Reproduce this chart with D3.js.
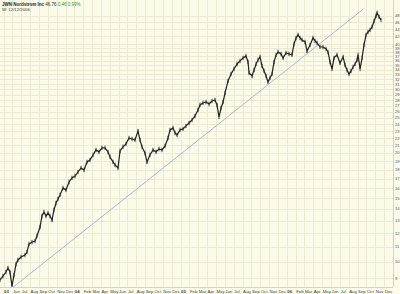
<!DOCTYPE html>
<html>
<head>
<meta charset="utf-8">
<script src="https://cdn.jsdelivr.net/npm/d3@7"></script>
<style>
  body { margin: 0; background: #fcfbe9; }
  svg { display: block; font-family: "Liberation Sans", Arial, sans-serif; }
</style>
</head>
<body>
<div id="chart"></div>
<script>
// price, time as decimal years
const years = [
  2003.300, 2003.328, 2003.356, 2003.375, 2003.394, 2003.413, 2003.432, 2003.451, 2003.469, 2003.498,
  2003.535, 2003.554, 2003.573, 2003.601, 2003.630, 2003.648, 2003.677, 2003.695, 2003.714, 2003.733,
  2003.752, 2003.771, 2003.790, 2003.808, 2003.827, 2003.846, 2003.865, 2003.893, 2003.921, 2003.950,
  2003.978, 2004.006, 2004.034, 2004.063, 2004.091, 2004.119, 2004.147, 2004.176, 2004.204, 2004.232,
  2004.260, 2004.289, 2004.317, 2004.336, 2004.364, 2004.383, 2004.411, 2004.430, 2004.458, 2004.486,
  2004.515, 2004.543, 2004.571, 2004.599, 2004.618, 2004.637, 2004.665, 2004.684, 2004.712, 2004.741,
  2004.769, 2004.797, 2004.825, 2004.854, 2004.882, 2004.901, 2004.929, 2004.948, 2004.967, 2004.995,
  2005.023, 2005.051, 2005.080, 2005.108, 2005.136, 2005.164, 2005.183, 2005.211, 2005.240, 2005.268,
  2005.296, 2005.324, 2005.343, 2005.362, 2005.381, 2005.400, 2005.419, 2005.447, 2005.475, 2005.503,
  2005.532, 2005.560, 2005.588, 2005.616, 2005.635, 2005.645, 2005.673, 2005.692, 2005.711, 2005.729,
  2005.748, 2005.767, 2005.786, 2005.805, 2005.823, 2005.842, 2005.861, 2005.880, 2005.899, 2005.918,
  2005.946, 2005.965, 2005.993, 2006.021, 2006.049, 2006.068, 2006.087, 2006.106, 2006.125, 2006.144,
  2006.172, 2006.191, 2006.219, 2006.247, 2006.266, 2006.285, 2006.313, 2006.341, 2006.370, 2006.388,
  2006.407, 2006.426, 2006.445, 2006.473, 2006.501, 2006.530, 2006.548, 2006.567, 2006.586, 2006.605,
  2006.624, 2006.643, 2006.662, 2006.671, 2006.690, 2006.709, 2006.727, 2006.746, 2006.765, 2006.784,
  2006.803, 2006.822, 2006.840, 2006.850, 2006.869, 2006.887
]
const closes = [
  8.91, 9.13, 9.37, 9.61, 9.37, 8.57, 9.19, 9.86, 10.12, 10.31,
  10.44, 10.64, 11.20, 11.34, 11.42, 11.79, 12.48, 13.39, 13.73, 13.39,
  13.64, 13.39, 13.05, 13.91, 14.54, 14.92, 15.31, 16.00, 15.80, 16.63,
  17.06, 17.27, 17.72, 18.18, 17.95, 18.89, 19.13, 19.75, 20.39, 20.13,
  20.66, 20.66, 20.13, 19.50, 18.89, 18.53, 18.18, 20.26, 20.79, 21.18,
  22.00, 21.86, 21.73, 22.99, 21.73, 20.79, 20.00, 18.89, 19.75, 20.39,
  20.13, 20.52, 20.39, 20.92, 22.00, 23.16, 23.46, 22.71, 22.43, 23.16,
  23.31, 23.76, 24.21, 24.68, 25.32, 26.30, 27.15, 27.50, 27.67, 27.32,
  27.85, 28.03, 27.15, 25.16, 26.63, 27.67, 29.31, 31.64, 33.08, 34.15,
  35.25, 35.94, 36.64, 37.10, 35.71, 33.29, 32.66, 33.93, 35.25, 36.17,
  36.87, 34.81, 33.72, 32.66, 31.44, 32.24, 33.08, 35.71, 37.34, 38.05,
  37.58, 36.64, 37.82, 37.58, 37.34, 40.04, 41.60, 42.41, 41.60, 41.08,
  40.56, 38.30, 39.79, 41.60, 40.82, 40.30, 39.28, 39.28, 38.79, 38.05,
  35.71, 34.15, 36.64, 37.34, 35.48, 36.87, 35.03, 33.93, 33.08, 33.72,
  34.59, 35.25, 36.17, 37.34, 34.15, 36.64, 39.79, 42.41, 43.23, 43.78,
  44.63, 46.36, 47.86, 48.80, 47.56, 46.66
]
const trendYears = [2003.41, 2006.72]
const trendPrices = [8.45, 50.0]
const priceTicks = [9, 10, 11, 12, 13, 14, 15, 16, 17, 18, 19, 20, 21, 22, 23, 24, 25, 26, 27, 28,
  29, 30, 31, 32, 33, 34, 35, 36, 37, 38, 39, 40, 42, 44, 46, 48]
const monthNames = ["Jan", "Feb", "Mar", "Apr", "May", "Jun", "Jul", "Aug", "Sep", "Oct", "Nov", "Dec"]

const WIDTH = 400, HEIGHT = 294
const PLOT = { W: 393, H: 287 }

const svg = d3.select("#chart").append("svg")
  .attr("width", WIDTH)
  .attr("height", HEIGHT)

svg.append("rect").attr("width", WIDTH).attr("height", HEIGHT).attr("fill", "#fcfbe9")

const x = d3.scaleLinear().domain([2003.30, 2007.00]).range([0, PLOT.W])
const y = d3.scaleLog().domain([8.4, 50]).range([289.2, 9.1])

// month ticks, year number on January (and on the first month)
const monthTicks = []
for (let yr = 2003; yr <= 2006; yr++) {
  for (let m = 0; m < 12; m++) {
    const t = yr + m / 12
    if (t < 2003.33) continue
    const isYear = m === 0 || monthTicks.length === 0
    monthTicks.push({ t, lab: isYear ? String(yr).slice(2) : monthNames[m], year: isYear })
  }
}

const grid = svg.append("g")
grid.selectAll("line.v").data(monthTicks).enter().append("line")
  .attr("x1", d => Math.round(x(d.t)) + 0.5).attr("x2", d => Math.round(x(d.t)) + 0.5)
  .attr("y1", 0).attr("y2", PLOT.H)
  .attr("stroke", "#ecead2").attr("stroke-width", 1)
grid.selectAll("line.h").data(priceTicks).enter().append("line")
  .attr("x1", 0).attr("x2", PLOT.W)
  .attr("y1", d => Math.round(y(d)) + 0.5).attr("y2", d => Math.round(y(d)) + 0.5)
  .attr("stroke", "#ecead2").attr("stroke-width", 1)

// frame of plot area
svg.append("line").attr("x1", PLOT.W + 0.5).attr("x2", PLOT.W + 0.5).attr("y1", 0).attr("y2", PLOT.H)
  .attr("stroke", "#d6d3ba")
svg.append("line").attr("x1", 0).attr("x2", PLOT.W).attr("y1", PLOT.H + 0.5).attr("y2", PLOT.H + 0.5)
  .attr("stroke", "#d6d3ba")

svg.append("clipPath").attr("id", "clip")
  .append("rect").attr("width", PLOT.W).attr("height", PLOT.H)

const plot = svg.append("g").attr("clip-path", "url(#clip)")

// trend line
plot.append("line")
  .attr("x1", x(trendYears[0])).attr("y1", y(trendPrices[0]))
  .attr("x2", x(trendYears[1])).attr("y2", y(trendPrices[1]))
  .attr("stroke", "#aab6d4").attr("stroke-width", 1)

const line = d3.line()
  .x((d, i) => x(years[i]))
  .y(d => y(d))

plot.append("path")
  .datum(closes)
  .attr("d", line)
  .attr("fill", "none")
  .attr("stroke", "#222")
  .attr("stroke-width", 1.2)

// bar-style tick at each reading
plot.selectAll("line.bar").data(closes).enter().append("line")
  .attr("class", "bar")
  .attr("x1", (d, i) => x(years[i])).attr("x2", (d, i) => x(years[i]))
  .attr("y1", d => y(d) - 2.2).attr("y2", d => y(d) + 2.2)
  .attr("stroke", "#2a2a2a").attr("stroke-width", 0.9)

// axis labels
svg.append("g").selectAll("text").data(monthTicks).enter().append("text")
  .attr("x", d => x(d.t) + 0.5)
  .attr("y", 292.5)
  .attr("font-size", "4.3px")
  .attr("font-weight", d => d.year ? "bold" : "normal")
  .attr("fill", "#444")
  .text(d => d.lab)

svg.append("g").selectAll("text").data(priceTicks).enter().append("text")
  .attr("x", 395)
  .attr("y", d => y(d) + 1.5)
  .attr("font-size", "4.2px")
  .attr("fill", "#555")
  .text(d => d)

// header
const head = svg.append("text").attr("x", 2).attr("y", 6).attr("font-size", "4.5px")
head.append("tspan").attr("font-weight", "bold").attr("fill", "#222").text("JWN Nordstrom Inc  ")
head.append("tspan").attr("fill", "#222").text("46.76  ")
head.append("tspan").attr("fill", "#2a9a2a").text("0.46  0.99%")

svg.append("text").attr("x", 2).attr("y", 11).attr("font-size", "4.3px")
  .attr("fill", "#333").text("W: 12/12/2006")
</script>
</body>
</html>
